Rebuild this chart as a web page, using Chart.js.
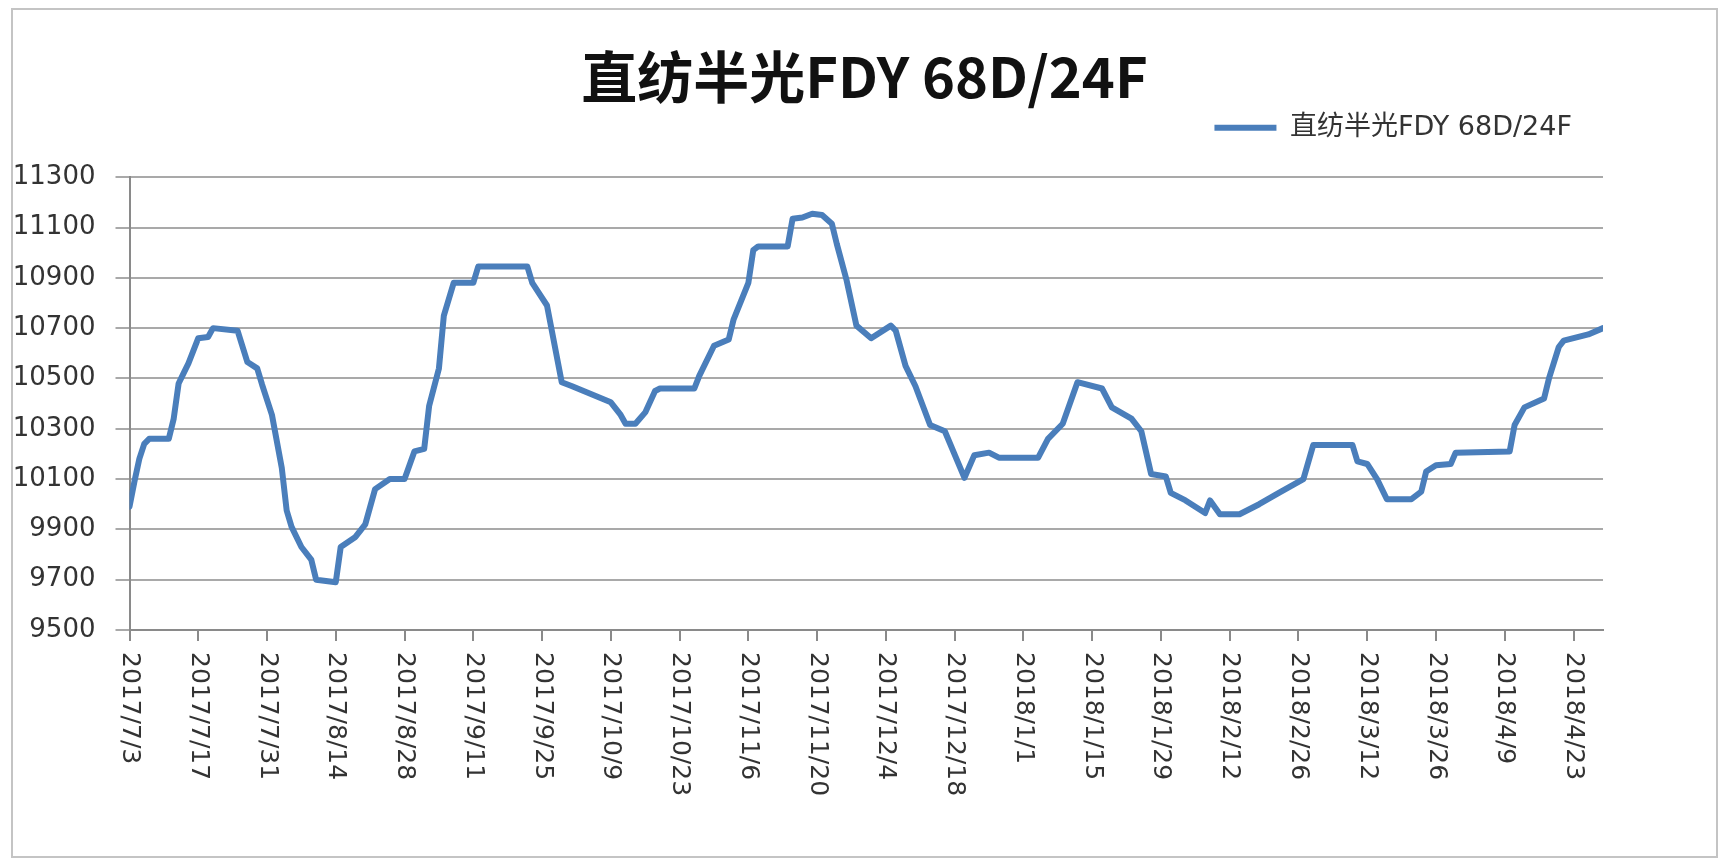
<!DOCTYPE html>
<html>
<head>
<meta charset="utf-8">
<title>直纺半光FDY 68D/24F</title>
<script src="https://cdn.jsdelivr.net/npm/chart.js@4.4.0/dist/chart.umd.min.js"></script>
<style>
	html, body { margin: 0; padding: 0; background: #fff; }
	#frame {
		position: absolute; left: 11px; top: 8px;
		width: 1707px; height: 850px;
		border: 2px solid #c4c4c4; box-sizing: border-box; background: #fff;
	}
	#frame canvas { display: block; }
</style>
</head>
<body>
<div id="frame"><canvas id="fdy-chart" width="1703" height="846"></canvas></div>
<script>
( function() {
	'use strict';

	var seriesName = '直纺半光FDY 68D/24F';

	// 横轴刻度（每两周一个）
	var tickLabels = ['2017/7/3', '2017/7/17', '2017/7/31', '2017/8/14', '2017/8/28', '2017/9/11',
		'2017/9/25', '2017/10/9', '2017/10/23', '2017/11/6', '2017/11/20', '2017/12/4',
		'2017/12/18', '2018/1/1', '2018/1/15', '2018/1/29', '2018/2/12', '2018/2/26',
		'2018/3/12', '2018/3/26', '2018/4/9', '2018/4/23'];

	// 自 2017/7/3 起的天数
	var days = [0, 1, 2, 3, 4, 8, 9, 10, 11, 12,
		14, 16, 17, 22, 24, 26, 27, 29, 31, 32,
		33, 35, 37, 38, 42, 43, 46, 48, 50, 53,
		56, 58, 60, 61, 63, 64, 66, 70, 71, 81,
		82, 85, 88, 90, 98, 100, 101, 103, 105, 107,
		108, 115, 116, 119, 122, 123, 126, 127, 128, 134,
		135, 137, 139, 141, 143, 144, 146, 148, 151, 155,
		156, 158, 160, 163, 166, 170, 172, 175, 177, 185,
		187, 190, 193, 198, 200, 204, 206, 208, 211, 212,
		215, 219, 220, 222, 226, 230, 234, 239, 241, 249,
		250, 252, 254, 256, 261, 263, 264, 266, 269, 270,
		281, 282, 284, 288, 289, 291, 292, 297, 300];

	// 价格（元/吨）
	var prices = [9990, 10090, 10180, 10240, 10260, 10260, 10340, 10480, 10520, 10560,
		10660, 10665, 10700, 10690, 10565, 10540, 10475, 10355, 10145, 9975,
		9910, 9830, 9780, 9700, 9690, 9830, 9870, 9920, 10060, 10100,
		10100, 10210, 10220, 10390, 10540, 10750, 10880, 10880, 10945, 10945,
		10880, 10790, 10485, 10470, 10405, 10355, 10320, 10320, 10365, 10450,
		10460, 10460, 10510, 10630, 10655, 10735, 10880, 11010, 11025, 11025,
		11135, 11140, 11155, 11150, 11115, 11035, 10890, 10710, 10660, 10710,
		10690, 10550, 10470, 10315, 10290, 10105, 10195, 10205, 10185, 10185,
		10260, 10320, 10485, 10460, 10385, 10340, 10290, 10120, 10110, 10045,
		10015, 9965, 10015, 9960, 9960, 10000, 10045, 10100, 10235, 10235,
		10170, 10160, 10100, 10020, 10020, 10050, 10130, 10155, 10160, 10205,
		10210, 10315, 10385, 10420, 10500, 10625, 10650, 10675, 10700];

	var lineColor = '#4a7ebb';
	var gridColor = '#a9a9a9';
	var axisColor = '#8a8a8a';
	var textColor = '#333';

	/**
	 * 横轴标签顺时针竖排
	 */
	var xLabelPlugin = {
		id: 'xLabels',
		afterDraw: function(chart) {
			var scale = chart.scales.x;
			var ctx = chart.ctx;
			ctx.save();
			ctx.fillStyle = textColor;
			ctx.font = '25px "DejaVu Sans"';
			ctx.textAlign = 'left';
			ctx.textBaseline = 'middle';
			scale.ticks.forEach(function(tick, i) {
				var x = scale.getPixelForValue(tick.value);
				ctx.save();
				ctx.translate(x, scale.top + 22);
				ctx.rotate(Math.PI / 2);
				ctx.fillText(tickLabels[i] || '', 0, 0);
				ctx.restore();
			});
			ctx.restore();
		}
	};

	/**
	 * 图例往左挪到绘图区右上方
	 */
	var legendShift = {
		id: 'legendShift',
		afterLayout: function(chart) {
			chart.legend.left -= 140;
			chart.legend.right -= 140;
		}
	};

	function spacer(position, size) {
		return {
			type: 'linear',
			position: position,
			display: true,
			grid: { display: false },
			border: { display: false },
			ticks: { display: false },
			afterFit: function(scale) {
				if (scale.isHorizontal()) {
					scale.height = size;
				} else {
					scale.width = size;
				}
			}
		};
	}

	var points = days.map(function(d, i) {
		return { x: d, y: prices[i] };
	});

	var ctx = document.getElementById('fdy-chart');
	var chart = new Chart(ctx, {
		type: 'line',
		data: {
			datasets: [{
				label: seriesName,
				data: points,
				borderColor: lineColor,
				backgroundColor: lineColor,
				borderWidth: 6,
				borderJoinStyle: 'round',
				borderCapStyle: 'round',
				pointRadius: 0,
				tension: 0,
				fill: false
			}]
		},
		options: {
			responsive: false,
			animation: false,
			layout: { padding: 0 },
			plugins: {
				title: {
					display: true,
					text: seriesName,
					color: '#111',
					font: { family: '"Noto Sans CJK SC"', size: 56, weight: 'bold' },
					padding: { top: 33, bottom: 0 }
				},
				legend: {
					display: true,
					position: 'top',
					align: 'end',
					labels: {
						color: textColor,
						font: { family: '"DejaVu Sans", "Noto Sans CJK SC"', size: 27 },
						usePointStyle: true,
						pointStyle: 'line',
						pointStyleWidth: 62,
						padding: 4
					}
				},
				tooltip: { enabled: false }
			},
			scales: {
				x: {
					type: 'linear',
					min: 0,
					max: 300,
					ticks: {
						stepSize: 14,
						includeBounds: false,
						autoSkip: false,
						minRotation: 90,
						maxRotation: 90,
						color: 'rgba(0,0,0,0)',
						font: { family: '"DejaVu Sans"', size: 25 }
					},
					grid: {
						drawOnChartArea: false,
						drawTicks: true,
						tickLength: 11,
						color: axisColor,
						lineWidth: 2
					},
					border: { display: true, color: axisColor, width: 2 },
					afterFit: function(scale) { scale.height = 226; }
				},
				y: {
					min: 9500,
					max: 11300,
					ticks: {
						stepSize: 200,
						padding: 20,
						color: textColor,
						font: { family: '"DejaVu Sans"', size: 26 },
						callback: function(value) { return String(value); }
					},
					grid: {
						color: gridColor,
						lineWidth: 2,
						tickLength: 14
					},
					border: { display: true, color: axisColor, width: 2 },
					afterFit: function(scale) { scale.width = 116.5; }
				},
				padRight: spacer('right', 113),
				padTop: spacer('top', 26)
			}
		},
		plugins: [xLabelPlugin, legendShift]
	});
})();
</script>
</body>
</html>
